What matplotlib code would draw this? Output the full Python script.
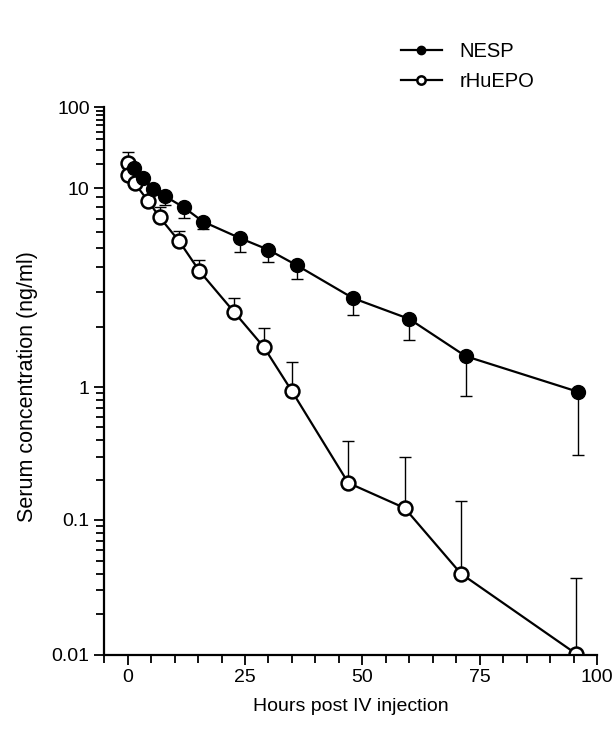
import numpy as np
import matplotlib
matplotlib.use("Agg")
from matplotlib import pyplot as plt
from matplotlib.ticker import FixedLocator, MultipleLocator, NullFormatter

plt.rcParams['font.family'] = ['Liberation Sans', 'DejaVu Sans']

# data
nesp_hours = [1.3, 3.2, 5.3, 8, 12, 16, 24, 30, 36, 48, 60, 72, 96]
nesp_conc = [18.0, 13.3, 9.9, 9.1, 8.0, 6.8, 5.6, 4.9, 4.1, 2.8, 2.2, 1.43, 0.92]
nesp_low = [18.0, 13.3, 9.9, 8.2, 7.1, 6.2, 4.8, 4.25, 3.5, 2.3, 1.72, 0.85, 0.31]

epo_hours = [0, 0.1, 1.5, 4.4, 6.8, 11, 15.3, 22.7, 29, 35, 47, 59, 71, 95.5]
epo_conc = [20.4, 14.5, 11.5, 8.6, 7.15, 5.4, 3.83, 2.38, 1.59, 0.93, 0.19, 0.123, 0.04, 0.0102]
epo_high = [28.0, 14.5, 11.5, 8.6, 8.0, 6.1, 4.35, 2.8, 1.98, 1.34, 0.39, 0.30, 0.14, 0.037]

x_ticks = [0, 25, 50, 75, 100]
y_ticks = [0.01, 0.1, 1, 10, 100]
y_labels = ['0.01', '0.1', '1', '10', '100']

# the printed log axis has uneven decades; nodes of the drawn scale
scale_dec = np.array([-2.0, -1.0, 0.0, 1.0, 2.0])
scale_pos = np.array([0.0, 135.0, 268.0, 467.0, 548.0])


def fwd(y):
    y = np.maximum(np.asarray(y, dtype=float), 1e-6)
    l = np.log10(y)
    p = np.interp(l, scale_dec, scale_pos)
    lo = l < scale_dec[0]
    hi = l > scale_dec[-1]
    p = np.where(lo, scale_pos[0] + (l - scale_dec[0]) * (scale_pos[1] - scale_pos[0]), p)
    p = np.where(hi, scale_pos[-1] + (l - scale_dec[-1]) * (scale_pos[-1] - scale_pos[-2]), p)
    return p


def inv(p):
    p = np.asarray(p, dtype=float)
    l = np.interp(p, scale_pos, scale_dec)
    lo = p < scale_pos[0]
    hi = p > scale_pos[-1]
    l = np.where(lo, scale_dec[0] + (p - scale_pos[0]) / (scale_pos[1] - scale_pos[0]), l)
    l = np.where(hi, scale_dec[-1] + (p - scale_pos[-1]) / (scale_pos[-1] - scale_pos[-2]), l)
    return 10.0 ** l


fig = plt.figure(figsize=(6.13, 7.45), dpi=100)
ax = fig.add_axes([0.170, 0.121, 0.804, 0.735])
ax.set_ylim(0.01, 100)
ax.set_yscale('function', functions=(fwd, inv))
ax.set_ylim(0.01, 100)

nesp_err = [np.array(nesp_conc) - np.array(nesp_low), np.zeros(len(nesp_conc))]
epo_err = [np.zeros(len(epo_conc)), np.array(epo_high) - np.array(epo_conc)]

ax.errorbar(nesp_hours, nesp_conc, yerr=nesp_err, fmt='none', ecolor='black',
            elinewidth=1.0, capsize=4, capthick=1.0, zorder=1)
ax.errorbar(epo_hours, epo_conc, yerr=epo_err, fmt='none', ecolor='black',
            elinewidth=1.0, capsize=4, capthick=1.0, zorder=1)

ax.plot(nesp_hours, nesp_conc, '-o', color='black', lw=1.6, ms=10,
        mfc='black', mec='black', label='NESP', zorder=3)
ax.plot(epo_hours, epo_conc, '-o', color='black', lw=1.6, ms=10,
        mfc='white', mec='black', mew=1.8, label='rHuEPO', zorder=2)

ax.set_ylim(0.01, 100)
ax.set_xlim(-5, 100)
ax.yaxis.set_major_locator(FixedLocator(y_ticks))
ax.yaxis.set_major_formatter(plt.FixedFormatter(y_labels))
minor = [m * 10.0 ** e for e in range(-2, 2) for m in range(2, 10)]
ax.yaxis.set_minor_locator(FixedLocator(minor))
ax.yaxis.set_minor_formatter(NullFormatter())
ax.xaxis.set_major_locator(FixedLocator(x_ticks))
ax.xaxis.set_minor_locator(MultipleLocator(5))

for s in ['top', 'right']:
    ax.spines[s].set_visible(False)
for s in ['left', 'bottom']:
    ax.spines[s].set_linewidth(1.6)

ax.tick_params(which='both', direction='out', width=1.3, labelsize=14)
ax.tick_params(which='major', length=7)
ax.tick_params(which='minor', length=6)

ax.set_xlabel('Hours post IV injection', fontsize=14, labelpad=8)
ax.set_ylabel('Serum concentration (ng/ml)', fontsize=15.5)
ax.yaxis.set_label_coords(-0.134, 0.49)

fig.legend(*ax.get_legend_handles_labels(), loc='upper left',
           bbox_to_anchor=(0.625, 0.968), frameon=False, fontsize=14.5,
           markerscale=0.6, handlelength=2.0, handletextpad=0.9, labelspacing=0.55)

fig.savefig('out.png', dpi=100)
